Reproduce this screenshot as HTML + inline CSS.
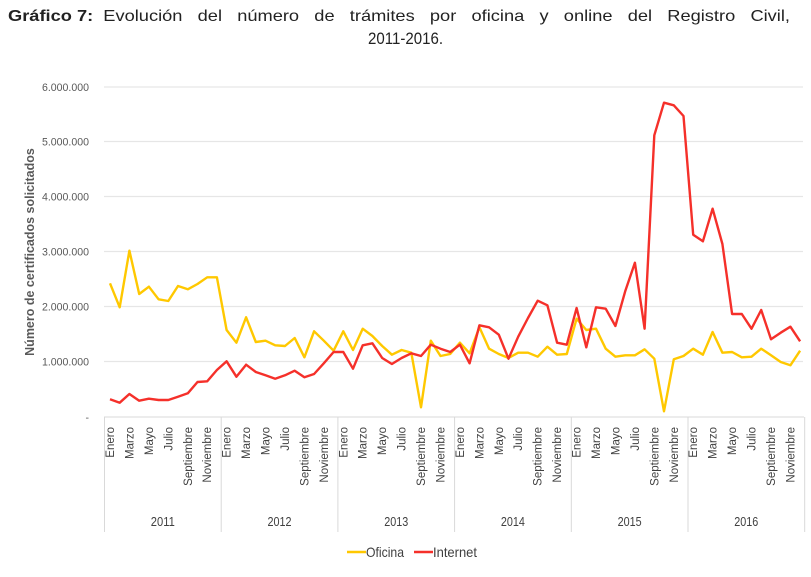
<!DOCTYPE html>
<html><head><meta charset="utf-8">
<style>
body{margin:0;background:#fff;width:811px;height:577px;overflow:hidden;font-family:"Liberation Sans",sans-serif;}
svg{position:absolute;left:0;top:0}
</style></head><body>
<svg id="s" width="811" height="577" font-family="Liberation Sans, sans-serif"></svg>
<script>
var s=document.getElementById('s'),h='';
h+='<text x="8" y="21" font-size="16" fill="#222" style="white-space:pre" textLength="782" lengthAdjust="spacingAndGlyphs"><tspan font-weight="bold">Gráfico 7:</tspan>  Evolución   del   número   de   trámites   por   oficina   y   online   del   Registro   Civil,</text>';
h+='<text x="368" y="44" font-size="17" fill="#222" textLength="75" lengthAdjust="spacingAndGlyphs">2011-2016.</text>';
var gy=[87,141.5,196.5,251.5,306.5,361.5];
var lab=['6.000.000','5.000.000','4.000.000','3.000.000','2.000.000','1.000.000'];
for(var i=0;i<6;i++){h+='<line x1="104" x2="803" y1="'+gy[i]+'" y2="'+gy[i]+'" stroke="#e6e6e6" stroke-width="1.3"/>';
h+='<text x="42" y="'+(gy[i]+4)+'" font-size="11" fill="#595959" textLength="47" lengthAdjust="spacingAndGlyphs">'+lab[i]+'</text>';}
h+='<text x="89" y="421" font-size="10.5" fill="#595959" text-anchor="end">-</text>';
h+='<line x1="104" x2="804" y1="417" y2="417" stroke="#d9d9d9"/>';
for(var y=0;y<7;y++){var x=104.5+116.7*y;h+='<line x1="'+x+'" x2="'+x+'" y1="417" y2="532" stroke="#d9d9d9"/>';}
var m=['Enero','Marzo','Mayo','Julio','Septiembre','Noviembre'];
for(var y=0;y<6;y++){for(var k=0;k<6;k++){var x=110+9.72*(y*12+k*2)+4;
h+='<text transform="translate('+x+',427) rotate(-90)" font-size="11.5" fill="#404040" text-anchor="end">'+m[k]+'</text>';}
h+='<text x="'+(150.8+116.7*y)+'" y="526" font-size="13" fill="#404040" textLength="24" lengthAdjust="spacingAndGlyphs">'+(2011+y)+'</text>';}
h+='<text transform="translate(34,252) rotate(-90)" font-size="12.5" font-weight="bold" fill="#595959" text-anchor="middle">Número de certificados solicitados</text>';
var of=[640,712,542,672,650,688,693,648,658,642,622,622,780,818,742,816,812,826,828,804,862,784,812,842,784,840,776,798,828,854,840,848,1012,812,858,852,
818,850,772,836,852,864,848,848,860,830,854,852,746,780,776,836,860,856,856,838,866,1024,868,858,836,854,786,848,846,862,860,836,856,876,886,842];
var it=[988,998,972,992,986,990,990,980,970,936,934,900,874,920,884,906,916,926,916,902,922,912,880,846,846,896,826,820,864,882,864,850,858,824,836,846,
824,880,766,772,794,866,800,744,692,706,818,824,714,832,712,716,768,664,578,776,196,98,106,138,494,514,416,522,732,732,776,720,808,788,770,814];
function pl(a,c){var p=[];for(var i=0;i<a.length;i++)p.push((110+9.72*i).toFixed(1)+','+(70+a[i]/3).toFixed(1));
return '<polyline points="'+p.join(' ')+'" fill="none" stroke="'+c+'" stroke-width="2.4" stroke-linejoin="round"/>';}
h+=pl(of,'#ffc800')+pl(it,'#f5302a');
h+='<line x1="347" x2="366" y1="552" y2="552" stroke="#ffc800" stroke-width="2.5"/><text x="366" y="557" font-size="14" fill="#404040" textLength="38" lengthAdjust="spacingAndGlyphs">Oficina</text>';
h+='<line x1="414" x2="433" y1="552" y2="552" stroke="#f5302a" stroke-width="2.5"/><text x="433" y="557" font-size="14" fill="#404040" textLength="44" lengthAdjust="spacingAndGlyphs">Internet</text>';
s.innerHTML=h;
</script>
</body></html>
